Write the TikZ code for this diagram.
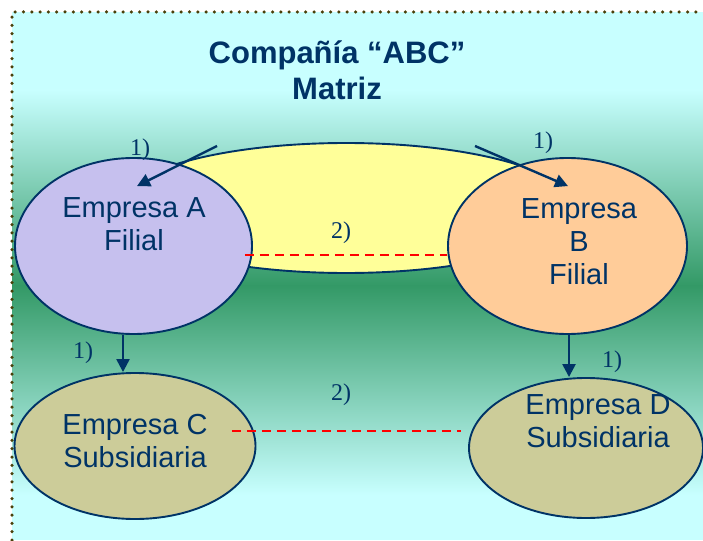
\documentclass[tikz,border=0pt]{standalone}
\usepackage{fontspec}
\setmainfont{Liberation Sans}
\newfontfamily\labfont{Liberation Serif}
\usetikzlibrary{arrows.meta,shapes.geometric,calc}
\definecolor{navy}{HTML}{003366}
\definecolor{bgcyan}{HTML}{C8FFFF}
\definecolor{bggreen}{HTML}{339966}
\definecolor{lav}{HTML}{C6C0EE}
\definecolor{peach}{HTML}{FFCC99}
\definecolor{yel}{HTML}{FFFF99}
\definecolor{khaki}{HTML}{CCCC99}
\definecolor{dotcol}{HTML}{4A400A}
\tikzset{
  oval/.style={ellipse, draw=navy, line width=1.9pt, inner sep=0pt},
  bodytext/.style={text=navy, align=center, font=\fontsize{29}{33}\selectfont},
  lab/.style={text=navy, font=\labfont\fontsize{24}{26}\selectfont, inner sep=0pt},
  arr/.style={draw=navy, line width=2.4pt, -{Triangle[width=13pt,length=13pt]}},
  rdash/.style={draw=red, line width=1.8pt, dash pattern=on 9pt off 6pt},
}
\begin{document}
\begin{tikzpicture}[x=1pt,y=-1pt]
\useasboundingbox (0,0) rectangle (703,540);
% background
\fill[bgcyan] (12,12) rectangle (703,540);
\shade[top color=bgcyan, bottom color=bggreen] (12,90) rectangle (703,286);
\shade[top color=bggreen, bottom color=bgcyan] (12,285) rectangle (703,495);
\draw[dotcol, line width=3.5pt, line cap=round, dash pattern=on 0pt off 8.3pt] (12,540) -- (12,12) -- (703,12);
% title
\node[text=navy, align=center, font=\bfseries\fontsize{31}{36}\selectfont] (title) at (337,70) {Compañía “ABC”\\Matriz};
% ovals
\node[oval, fill=yel, minimum width=460pt, minimum height=130pt] (M) at (346,208) {};
\node[oval, fill=lav, minimum width=237pt, minimum height=176pt] (A) at (133.5,246) {};
\node[oval, fill=peach, minimum width=239pt, minimum height=176pt] (B) at (567.5,246) {};
\node[oval, fill=khaki, minimum width=241pt, minimum height=146pt] (C) at (135,446) {};
\node[oval, fill=khaki, minimum width=234pt, minimum height=140pt] (D) at (586,448) {};
% texts
\node[bodytext] (At) at (134,224) {Empresa A\\Filial};
\node[bodytext] (Bt) at (579,242) {Empresa\\B\\Filial};
\node[bodytext] (Ct) at (135,441.5) {Empresa C\\Subsidiaria};
\node[bodytext] (Dt) at (598,421.5) {Empresa D\\Subsidiaria};
% arrows from parent
\coordinate (sA) at (217,146);
\coordinate (sB) at (475,146);
\draw[arr] (sA) -- ([shift={(3.5pt,-29pt)}]A.north);
\draw[arr] (sB) -- ([shift={(0.5pt,-29pt)}]B.north);
\draw[arr] ([xshift=-10.5pt]A.south) -- ([xshift=-12pt]C.north);
\draw[arr] ([xshift=1.5pt]B.south) -- ([xshift=-17pt]D.north);
% dashed links
\draw[rdash] ([shift={(-8pt,-9pt)}]A.east) -- ([yshift=-9pt]B.west);
\draw[rdash] ([shift={(-24.5pt,15pt)}]C.east) -- ([shift={(-7pt,17pt)}]D.west);
% labels
\node[lab] (l1) at (140,150) {1)};
\node[lab] (l2) at (543,143) {1)};
\node[lab] (l3) at (341,233) {2)};
\node[lab] (l4) at (83,353) {1)};
\node[lab] (l5) at (612,362) {1)};
\node[lab] (l6) at (341,395) {2)};
\end{tikzpicture}
\end{document}
